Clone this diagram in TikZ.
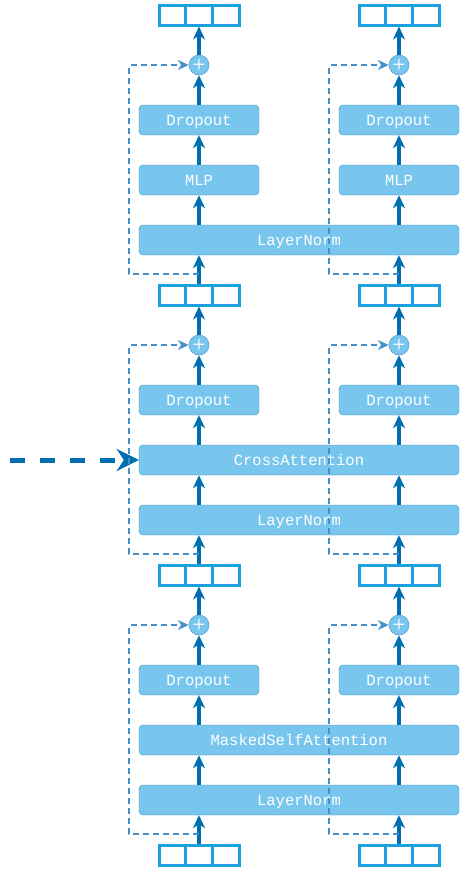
\documentclass[tikz,border=0pt]{standalone}
\usepackage{fontspec}
\usepackage{tikz}
\usetikzlibrary{arrows.meta,positioning,calc}
\newfontfamily\boxfont{Liberation Mono}
\definecolor{blkfill}{HTML}{78C6EE}
\definecolor{blkline}{HTML}{3E8EC6}
\definecolor{flowblue}{HTML}{006EAF}
\definecolor{tokcyan}{HTML}{1BA1E2}
\definecolor{resblue}{HTML}{4590C8}

\begin{document}
\begin{tikzpicture}[x=1pt, y=-1pt,
  blk/.style={draw=blkline, fill=blkfill, rounded corners=4pt, minimum height=30pt, inner sep=0pt, text height=10.5pt, text depth=0pt, text=white, font=\boxfont\fontsize{15.5}{18}\selectfont},
  small/.style={blk, minimum width=120pt},
  wide/.style={blk, minimum width=320pt},
  tokens/.style={draw=tokcyan, line width=3pt, minimum width=80pt, minimum height=20pt, inner sep=0pt,
    path picture={\draw[tokcyan, line width=3pt]
      ([xshift=-13.3pt]path picture bounding box.north) -- ([xshift=-13.3pt]path picture bounding box.south)
      ([xshift=13.3pt]path picture bounding box.north) -- ([xshift=13.3pt]path picture bounding box.south);}},
  plusnode/.style={circle, draw=blkline, fill=blkfill, minimum size=20pt, inner sep=0pt, text=white, font=\sffamily\bfseries\fontsize{15}{15}\selectfont},
  flow/.style={-{Stealth[length=13pt, width=12pt, inset=4pt]}, flowblue, line width=3.2pt},
  res/.style={-{Stealth[length=11pt, width=10pt, inset=3.5pt]}, resblue, line width=2pt, dash pattern=on 6pt off 4pt}]
  \useasboundingbox (0,0) rectangle (460,870);

  % tokens
  \node[tokens] (tokA0) at (199,855) {};
  \node[tokens] (tokB0) at (399,855) {};
  \node[tokens] (tokA1) at (199,575) {};
  \node[tokens] (tokB1) at (399,575) {};
  \node[tokens] (tokA2) at (199,295) {};
  \node[tokens] (tokB2) at (399,295) {};
  \node[tokens] (tokA3) at (199,15) {};
  \node[tokens] (tokB3) at (399,15) {};

  % first block
  \node[wide] (ln1) at (299,800) {LayerNorm};
  \node[wide] (msa) at (299,740) {MaskedSelfAttention};
  \node[small] (dropA1) at (199,680) {Dropout};
  \node[small] (dropB1) at (399,680) {Dropout};
  \node[plusnode] (plusA1) at (199,625) {+};
  \node[plusnode] (plusB1) at (399,625) {+};

  % second block
  \node[wide] (ln2) at (299,520) {LayerNorm};
  \node[wide] (xatt) at (299,460) {CrossAttention};
  \node[small] (dropA2) at (199,400) {Dropout};
  \node[small] (dropB2) at (399,400) {Dropout};
  \node[plusnode] (plusA2) at (199,345) {+};
  \node[plusnode] (plusB2) at (399,345) {+};

  % third block
  \node[wide] (ln3) at (299,240) {LayerNorm};
  \node[small] (mlpA) at (199,180) {MLP};
  \node[small] (mlpB) at (399,180) {MLP};
  \node[small] (dropA3) at (199,120) {Dropout};
  \node[small] (dropB3) at (399,120) {Dropout};
  \node[plusnode] (plusA3) at (199,65) {+};
  \node[plusnode] (plusB3) at (399,65) {+};

  \coordinate (encout) at (10,460);

  % main flow
  \draw[flow] (tokA0) -- (tokA0 |- ln1.south);
  \draw[flow] (tokB0) -- (tokB0 |- ln1.south);
  \draw[flow] (tokA0 |- ln1.north) -- (tokA0 |- msa.south);
  \draw[flow] (tokB0 |- ln1.north) -- (tokB0 |- msa.south);
  \draw[flow] (tokA0 |- msa.north) -- (dropA1);
  \draw[flow] (tokB0 |- msa.north) -- (dropB1);
  \draw[flow] (dropA1) -- (plusA1);
  \draw[flow] (dropB1) -- (plusB1);
  \draw[flow] (plusA1) -- (tokA1);
  \draw[flow] (plusB1) -- (tokB1);

  \draw[flow] (tokA1) -- (tokA1 |- ln2.south);
  \draw[flow] (tokB1) -- (tokB1 |- ln2.south);
  \draw[flow] (tokA1 |- ln2.north) -- (tokA1 |- xatt.south);
  \draw[flow] (tokB1 |- ln2.north) -- (tokB1 |- xatt.south);
  \draw[flow] (tokA1 |- xatt.north) -- (dropA2);
  \draw[flow] (tokB1 |- xatt.north) -- (dropB2);
  \draw[flow] (dropA2) -- (plusA2);
  \draw[flow] (dropB2) -- (plusB2);
  \draw[flow] (plusA2) -- (tokA2);
  \draw[flow] (plusB2) -- (tokB2);

  \draw[flow] (tokA2) -- (tokA2 |- ln3.south);
  \draw[flow] (tokB2) -- (tokB2 |- ln3.south);
  \draw[flow] (tokA2 |- ln3.north) -- (mlpA);
  \draw[flow] (tokB2 |- ln3.north) -- (mlpB);
  \draw[flow] (mlpA) -- (dropA3);
  \draw[flow] (mlpB) -- (dropB3);
  \draw[flow] (dropA3) -- (plusA3);
  \draw[flow] (dropB3) -- (plusB3);
  \draw[flow] (plusA3) -- (tokA3);
  \draw[flow] (plusB3) -- (tokB3);

  % encoder input
  \draw[-{Stealth[length=22pt, width=22pt, inset=7pt]}, flowblue, line width=5pt, dash pattern=on 15pt off 15pt] (encout) -- (xatt.west);

  % residual connections
  \draw[res] ($(tokA0.north)+(0,-10)$) -- ++(-70,0) |- (plusA1);
  \draw[res] ($(tokB0.north)+(0,-10)$) -- ++(-70,0) |- (plusB1);
  \draw[res] ($(tokA1.north)+(0,-10)$) -- ++(-70,0) |- (plusA2);
  \draw[res] ($(tokB1.north)+(0,-10)$) -- ++(-70,0) |- (plusB2);
  \draw[res] ($(tokA2.north)+(0,-10)$) -- ++(-70,0) |- (plusA3);
  \draw[res] ($(tokB2.north)+(0,-10)$) -- ++(-70,0) |- (plusB3);
\end{tikzpicture}
\end{document}
